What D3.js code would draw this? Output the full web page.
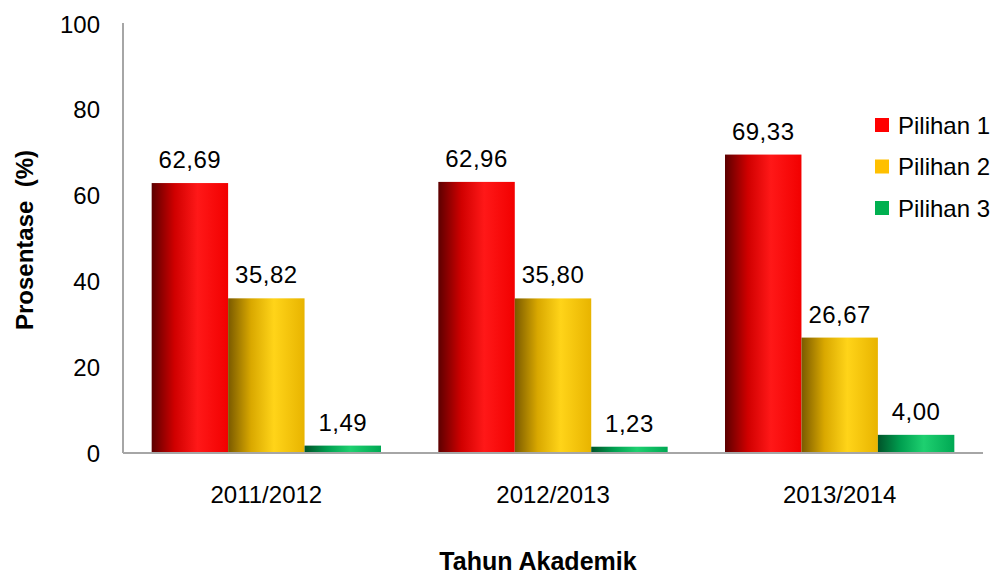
<!DOCTYPE html>
<html>
<head>
<meta charset="utf-8">
<script src="https://cdn.jsdelivr.net/npm/d3@7"></script>
<style>
  body { margin: 0; background: #fff; }
  svg { display: block; font-family: "Liberation Sans", Arial, sans-serif; }
</style>
</head>
<body>
<svg id="chart" width="999" height="575"></svg>
<script>
// data
var years = ["2011/2012", "2012/2013", "2013/2014"];
var seriesNames = ["Pilihan 1", "Pilihan 2", "Pilihan 3"];
var pilihan1 = [62.69, 62.96, 69.33];
var pilihan2 = [35.82, 35.80, 26.67];
var pilihan3 = [1.49, 1.23, 4.00];
var yTicks = [0, 20, 40, 60, 80, 100];

var seriesValues = [pilihan1, pilihan2, pilihan3];
var baseColors = ["#ff0000", "#ffc000", "#00b050"];
// cylinder-ish shading: dark left edge, bright middle, a bit darker right
var shades = [
    ["#5c0000", "#d00000", "#ff1818", "#f20000"],
    ["#7a5a00", "#d9a800", "#ffd419", "#e8b400"],
    ["#00532a", "#00a050", "#1ed070", "#00a853"]
];

var margin = {top: 23, left: 123, right: 16, bottom: 123};
var width = 999 - margin.left - margin.right;
var height = 575 - margin.top - margin.bottom;
var fs = 24;

var svg = d3.select("#chart");

// gradients
var defs = svg.append("defs");
shades.forEach(function(s, i) {
    var g = defs.append("linearGradient")
        .attr("id", "grad" + i)
        .attr("x1", "0").attr("x2", "1").attr("y1", "0").attr("y2", "0");
    g.append("stop").attr("offset", "0%").attr("stop-color", s[0]);
    g.append("stop").attr("offset", "30%").attr("stop-color", s[1]);
    g.append("stop").attr("offset", "60%").attr("stop-color", s[2]);
    g.append("stop").attr("offset", "100%").attr("stop-color", s[3]);
});

var g = svg.append("g")
    .attr("transform", "translate(" + margin.left + "," + margin.top + ")");

var x0 = d3.scaleBand().domain(years).range([0, width]).paddingInner(0).paddingOuter(0);
var x1 = d3.scaleBand().domain(seriesNames)
    .range([x0.bandwidth() * 0.1, x0.bandwidth() * 0.9]).padding(0);
var y = d3.scaleLinear().domain([0, 100]).range([height, 0]);

// y tick labels (no tick marks)
var yAxis = d3.axisLeft(y).tickValues(yTicks).tickSize(0).tickPadding(23);
g.append("g")
    .call(yAxis)
    .call(function(s) { s.select(".domain").remove(); })
    .selectAll("text")
    .attr("font-size", fs)
    .attr("font-family", "Liberation Sans, Arial, sans-serif")
    .attr("fill", "#000")
    .attr("dy", "0.38em");

// bars
var groups = g.selectAll(".grp")
    .data(years)
    .enter().append("g")
    .attr("class", "grp")
    .attr("transform", function(d) { return "translate(" + x0(d) + ",0)"; });

seriesNames.forEach(function(name, si) {
    groups.append("rect")
        .attr("x", x1(name))
        .attr("width", x1.bandwidth())
        .attr("y", function(d, i) { return y(seriesValues[si][i]); })
        .attr("height", function(d, i) { return height - y(seriesValues[si][i]); })
        .attr("fill", "url(#grad" + si + ")");

    groups.append("text")
        .attr("x", x1(name) + x1.bandwidth() / 2)
        .attr("y", function(d, i) { return y(seriesValues[si][i]) - 15; })
        .attr("text-anchor", "middle")
        .attr("font-size", fs)
        .attr("fill", "#000")
        .attr("letter-spacing", 0.5)
        .text(function(d, i) { return seriesValues[si][i].toFixed(2).replace(".", ","); });
});

// axis lines
g.append("line")
    .attr("x1", 0).attr("x2", 0).attr("y1", 0).attr("y2", height + 1)
    .attr("stroke", "#a6a6a6").attr("stroke-width", 2);
g.append("line")
    .attr("x1", 0).attr("x2", width).attr("y1", height + 1).attr("y2", height + 1)
    .attr("stroke", "#a6a6a6").attr("stroke-width", 2);

// x category labels
var xAxis = d3.axisBottom(x0).tickSize(0).tickPadding(34);
g.append("g")
    .attr("transform", "translate(0," + height + ")")
    .call(xAxis)
    .call(function(s) { s.select(".domain").remove(); })
    .selectAll("text")
    .attr("font-size", fs)
    .attr("font-family", "Liberation Sans, Arial, sans-serif")
    .attr("fill", "#000");

// axis titles
svg.append("text")
    .attr("x", 538).attr("y", 570)
    .attr("text-anchor", "middle")
    .attr("font-size", 25).attr("font-weight", "bold")
    .text("Tahun Akademik");

svg.append("text")
    .attr("transform", "translate(33,240) rotate(-90)")
    .attr("text-anchor", "middle")
    .attr("font-size", 24).attr("font-weight", "bold")
    .attr("style", "white-space: pre")
    .text("Prosentase  (%)");

// legend
var legend = svg.append("g").attr("transform", "translate(875,125)");
seriesNames.forEach(function(name, i) {
    var row = legend.append("g").attr("transform", "translate(0," + (i * 41.5) + ")");
    row.append("rect")
        .attr("x", 0).attr("y", -7).attr("width", 14).attr("height", 14)
        .attr("fill", baseColors[i]);
    row.append("text")
        .attr("x", 23).attr("y", 0).attr("dy", "0.36em")
        .attr("font-size", fs)
        .text(name);
});
</script>
</body>
</html>
